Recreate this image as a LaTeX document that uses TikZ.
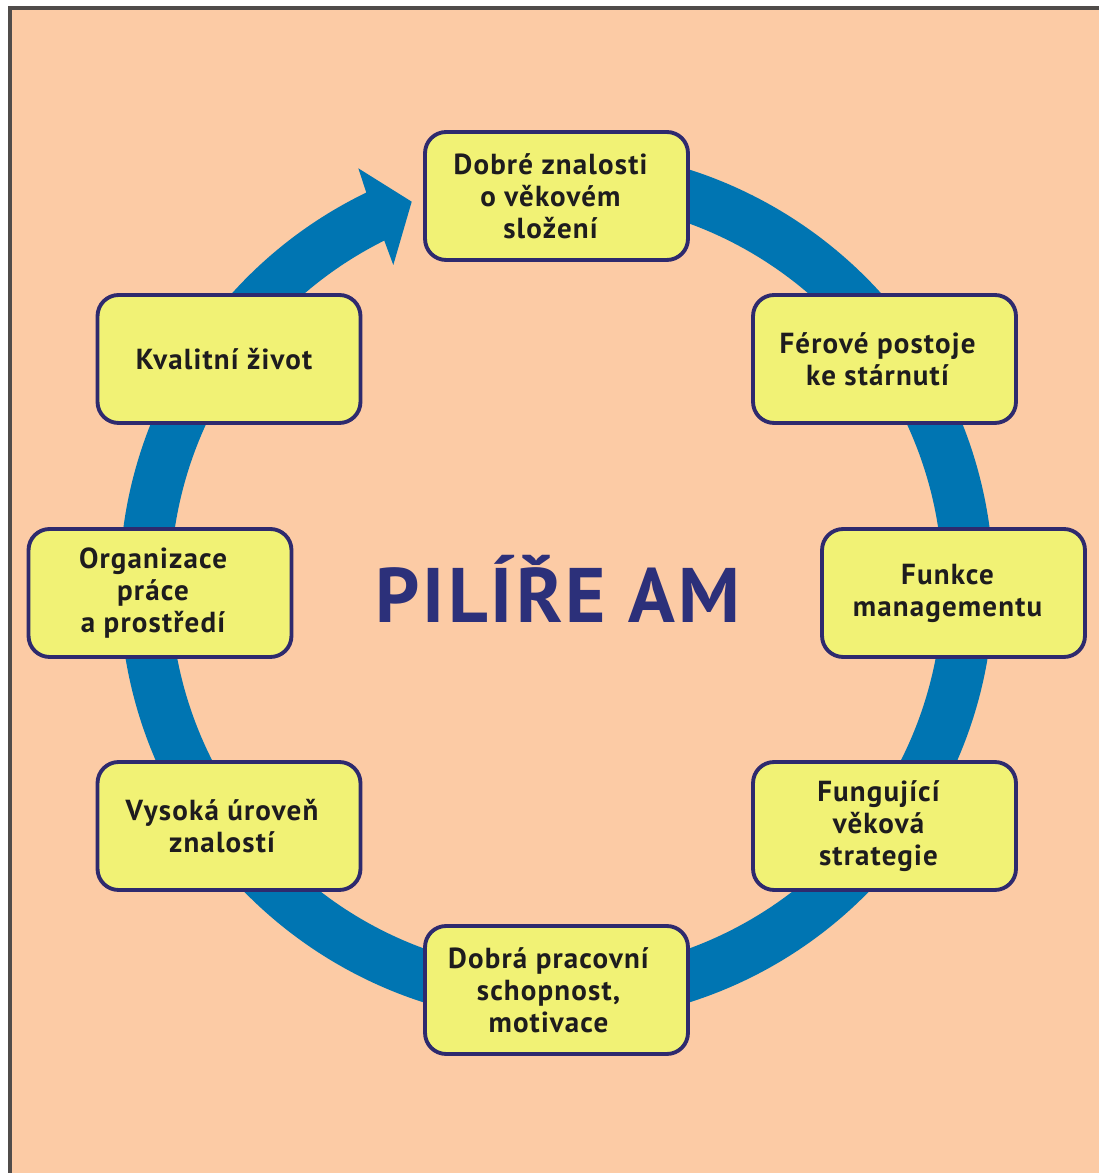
\documentclass[tikz,border=0pt]{standalone}
\usepackage{fontspec}
\setmainfont{PT Sans}
\usetikzlibrary{calc}
\definecolor{peach}{RGB}{252,203,165}
\definecolor{ringblue}{RGB}{0,117,178}
\definecolor{boxyellow}{RGB}{241,242,117}
\definecolor{boxnavy}{RGB}{46,42,110}
\definecolor{titlenavy}{RGB}{44,48,122}
\definecolor{txtdark}{RGB}{30,28,30}
\definecolor{framegray}{RGB}{80,76,74}
\begin{document}
\begin{tikzpicture}[x=0.02cm,y=0.02cm,
  pillar/.style={draw=boxnavy,line width=2.2pt,fill=boxyellow,rounded corners=12pt,
    minimum width=5.26cm,minimum height=2.56cm,inner sep=0pt},
  ptext/.style={font=\bfseries\addfontfeature{LetterSpace=4}\fontsize{16.5}{18.2}\selectfont,text=txtdark,align=center,inner sep=0pt},
]
\useasboundingbox (0,0) rectangle (1099,1173);
\fill[white] (0,0) rectangle (1099,1173);
\fill[peach] (10,0) rectangle (1099,1165);
\draw[framegray,line width=1.8pt] (10,0) -- (10,1165) -- (1099,1165);

\coordinate (C) at (556.5,587);
% ring with arrowhead
\coordinate (tip) at (411.7,971.3);
\coordinate (wingtop) at (358.3,1004.7);
\coordinate (wingbot) at (393.3,908);
\fill[ringblue] ($(C)+(100:437)$) arc[start angle=100,end angle=-244.2,radius=437]
  -- (wingtop) -- (tip) -- (wingbot)
  -- ($(C)+(-243.5:386)$) arc[start angle=-243.5,end angle=100,radius=386] -- cycle;

% boxes
\node[pillar] (top) at (556.5,977) {};
\node[pillar] (ferove) at (884.5,814) {};
\node[pillar] (funkce) at (953.5,580) {};
\node[pillar] (fungujici) at (884.5,347) {};
\node[pillar] (bottom) at (556.5,183) {};
\node[pillar] (vysoka) at (229,347) {};
\node[pillar] (organizace) at (160,580) {};
\node[pillar] (kvalitni) at (229,814) {};

\node[ptext] (ttop) at ($(top)+(-6,0)$) {Dobré znalosti\\o věkovém\\složení};
\node[ptext] (tferove) at ($(ferove)+(-7,0)$) {Férové postoje\\ke stárnutí};
\node[ptext] (tfunkce) at ($(funkce)+(-6,0)$) {Funkce\\managementu};
\node[ptext] (tfungujici) at ($(fungujici)+(-6,0)$) {Fungující\\věková\\strategie};
\node[ptext] (tbottom) at ($(bottom)+(-8,0)$) {Dobrá pracovní\\schopnost,\\motivace};
\node[ptext] (tvysoka) at ($(vysoka)+(-7,0)$) {Vysoká úroveň\\znalostí};
\node[ptext] (torganizace) at ($(organizace)+(-7,0)$) {Organizace\\práce\\a prostředí};
\node[ptext] (tkvalitni) at ($(kvalitni)+(-5,0)$) {Kvalitní život};

\node[font=\bfseries\addfontfeature{LetterSpace=4}\fontsize{44}{50}\selectfont,text=titlenavy,inner sep=0pt] (title) at (558,584) {PILÍŘE AM};
\end{tikzpicture}
\end{document}
